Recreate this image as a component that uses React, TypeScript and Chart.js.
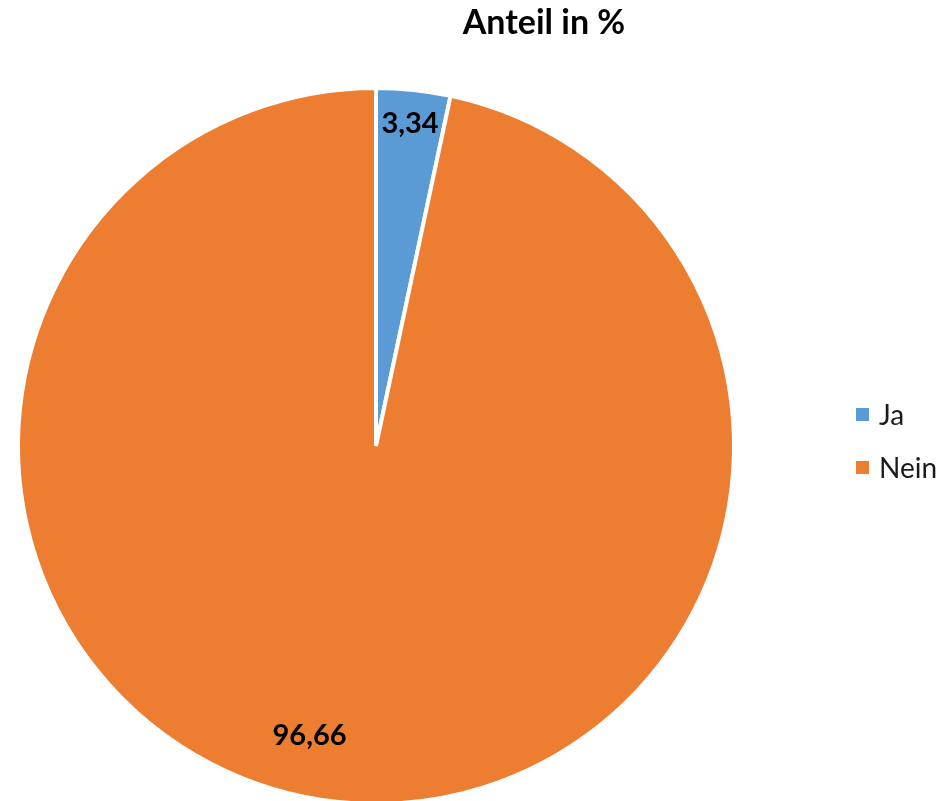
import { useEffect, useRef } from 'react';
import { Chart, ArcElement, PieController, type Plugin } from 'chart.js';

Chart.register(ArcElement, PieController);

/* ─── Data ───────────────────────────────────────────────────────────── */

const TITLE = 'Anteil in %';
const LABELS = ['Ja', 'Nein'];
const VALUES = [3.34, 96.66];
const COLOURS = ['#5B9BD5', '#ED7D31'];

/* ─── Style ──────────────────────────────────────────────────────────── */

const FONT = "Lato, 'Open Sans', sans-serif";
// where each value label sits inside its slice (fraction of sweep / radius)
const LABEL_ANGLE_FRAC = [0.5, 0.52];
const LABEL_RADIUS_FRAC = [0.907, 0.827];

const formatValue = (v: number) => v.toFixed(2).replace('.', ',');

/* ─── Value labels plugin ────────────────────────────────────────────── */

const valueLabels: Plugin<'pie'> = {
  id: 'valueLabels',
  afterDatasetsDraw(chart) {
    const { ctx } = chart;
    const meta = chart.getDatasetMeta(0);
    ctx.save();
    ctx.font = `bold 29px ${FONT}`;
    ctx.fillStyle = '#000';
    ctx.textAlign = 'center';
    ctx.textBaseline = 'alphabetic';
    meta.data.forEach((el, i) => {
      const { x, y, startAngle, endAngle, outerRadius } = el.getProps(
        ['x', 'y', 'startAngle', 'endAngle', 'outerRadius'], true,
      ) as any;
      const a = startAngle + (endAngle - startAngle) * LABEL_ANGLE_FRAC[i];
      const r = outerRadius * LABEL_RADIUS_FRAC[i];
      const cx = x + Math.cos(a) * r;
      const cy = y + Math.sin(a) * r;
      ctx.fillText(formatValue(VALUES[i]), cx, cy + 10);
    });
    ctx.restore();
  },
};

/* ─── Component ──────────────────────────────────────────────────────── */

export default function App() {
  const canvasRef = useRef<HTMLCanvasElement>(null);

  useEffect(() => {
    if (!canvasRef.current) return;
    const chart = new Chart(canvasRef.current, {
      type: 'pie',
      data: {
        labels: LABELS,
        datasets: [{
          data: VALUES,
          backgroundColor: COLOURS,
          borderColor: '#ffffff',
          borderWidth: 4,
        }],
      },
      options: {
        responsive: false,
        animation: false,
        radius: 358,
        layout: { padding: { left: 0, right: 187, top: 0, bottom: 0 } },
        plugins: {
          legend: { display: false },
          tooltip: { enabled: false },
        },
      },
      plugins: [valueLabels],
    });
    return () => chart.destroy();
  }, []);

  return (
    <div style={{
      position: 'fixed', left: 0, top: 0, width: 939, height: 801,
      overflow: 'hidden', background: '#fff', fontFamily: FONT,
    }}>
      <canvas ref={canvasRef} width={939} height={892}
        style={{ position: 'absolute', left: 0, top: 0 }} />

      <div style={{
        position: 'absolute', left: 544, top: 1, transform: 'translateX(-50%)',
        whiteSpace: 'nowrap', fontSize: 34, lineHeight: '40px', fontWeight: 700, color: '#000',
      }}>
        {TITLE}
      </div>

      {LABELS.map((label, i) => (
        <div key={label} style={{
          position: 'absolute', left: 856, top: 398 + i * 53, height: 32,
          display: 'flex', alignItems: 'center', fontSize: 28, lineHeight: '32px', color: '#1a1a1a',
        }}>
          <span style={{ width: 13, height: 13, background: COLOURS[i], marginRight: 10, flex: 'none' }} />
          {label}
        </div>
      ))}
    </div>
  );
}
